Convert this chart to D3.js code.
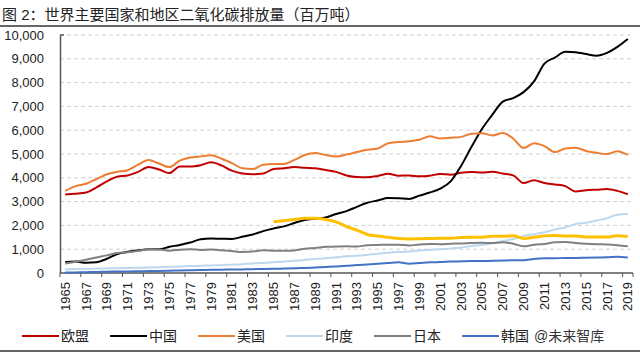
<!DOCTYPE html>
<html><head><meta charset="utf-8">
<script src="https://cdn.jsdelivr.net/npm/d3@7/dist/d3.min.js"></script>
<style>
html,body{margin:0;padding:0;background:#fff;}
svg{display:block;}
text{font-family:"Liberation Sans",Arial,"Noto Sans CJK SC",sans-serif;}
</style></head>
<body>
<svg id="chart" width="640" height="355"></svg>
<script>
const years = d3.range(1965, 2020);
const yTicks = [0,1000,2000,3000,4000,5000,6000,7000,8000,9000,10000];
const title = "图 2：世界主要国家和地区二氧化碳排放量（百万吨）";

const eu = [3300,3330,3380,3600,3850,4050,4100,4250,4450,4350,4200,4480,4470,4530,4650,4520,4300,4180,4150,4180,4370,4400,4450,4420,4400,4330,4250,4100,4030,4020,4080,4170,4090,4100,4060,4090,4160,4130,4210,4240,4220,4250,4180,4100,3780,3900,3780,3720,3650,3420,3480,3500,3530,3450,3310];
const china = [460,480,430,450,600,800,890,950,1000,1000,1100,1180,1280,1420,1450,1440,1430,1520,1620,1760,1870,1960,2100,2230,2280,2330,2480,2600,2780,2950,3050,3150,3140,3110,3250,3380,3550,3850,4500,5300,6050,6650,7200,7350,7600,8050,8800,9050,9300,9280,9200,9130,9250,9500,9830];
const usa = [3450,3650,3750,3950,4150,4250,4320,4550,4750,4600,4450,4720,4850,4900,4950,4800,4620,4400,4370,4550,4580,4580,4750,4960,5040,4960,4900,4980,5080,5180,5230,5450,5500,5540,5600,5750,5650,5680,5720,5850,5870,5780,5880,5650,5250,5450,5330,5080,5230,5260,5130,5050,5000,5120,4960];
const india = [160,170,175,185,195,200,210,220,230,240,260,270,290,300,320,330,350,370,400,420,450,480,510,550,590,620,660,700,720,760,810,850,880,900,950,980,1000,1030,1070,1130,1180,1250,1340,1430,1560,1630,1710,1830,1910,2060,2110,2210,2300,2450,2480];
const japan = [400,470,560,650,740,840,870,930,1000,990,940,980,1000,970,990,960,920,880,900,960,940,930,950,1020,1050,1100,1110,1120,1110,1170,1180,1190,1190,1160,1200,1220,1210,1230,1240,1260,1270,1260,1290,1230,1120,1190,1220,1290,1300,1260,1230,1210,1200,1170,1120];
const korea = [20,25,35,45,55,60,65,70,80,85,95,105,115,125,135,140,145,150,160,170,175,185,195,215,230,250,275,300,335,360,390,420,450,390,420,450,460,480,490,500,500,510,520,540,540,590,620,620,630,630,640,650,660,680,650];
const russia = [null,null,null,null,null,null,null,null,null,null,null,null,null,null,null,null,null,null,null,null,2150,2200,2250,2300,2300,2250,2150,1950,1800,1620,1550,1500,1450,1430,1440,1450,1460,1460,1490,1500,1500,1540,1540,1560,1450,1500,1560,1580,1550,1550,1510,1510,1510,1560,1530];

const series = [
  {name:"欧盟", values:eu, color:"#C00000", w:2},
  {name:"中国", values:china, color:"#000000", w:2},
  {name:"美国", values:usa, color:"#ED7D31", w:2},
  {name:"印度", values:india, color:"#BDD7EE", w:2},
  {name:"日本", values:japan, color:"#808080", w:2},
  {name:"韩国", values:korea, color:"#4472C4", w:2},
  {name:"俄罗斯", values:russia, color:"#FFC000", w:3}
];

const svg = d3.select("#chart");
const L = 60, R = 633, T = 35, B = 273;

// title
svg.append("text").attr("x",2).attr("y",20).attr("font-size",15).attr("fill","#222")
  .attr("font-family","'Noto Sans CJK SC',sans-serif").text(title);
svg.append("line").attr("x1",0).attr("x2",640).attr("y1",26).attr("y2",26).attr("stroke","#333").attr("stroke-width",1.5);
svg.append("line").attr("x1",0).attr("x2",640).attr("y1",351).attr("y2",351).attr("stroke","#333").attr("stroke-width",1.5);

const x = d3.scaleBand().domain(years).range([L,R]).padding(0);
const y = d3.scaleLinear().domain([0,10000]).range([B,T]);
const cx = d => x(d) + x.bandwidth()/2;

// gridlines
svg.append("g").selectAll("line").data(yTicks.filter(v=>v>0)).join("line")
  .attr("x1",L).attr("x2",R).attr("y1",d=>y(d)).attr("y2",d=>y(d))
  .attr("stroke","#d0d0d0").attr("stroke-width",1).attr("stroke-dasharray","4,3");

// y axis
const yAxis = svg.append("g").attr("transform",`translate(${L},0)`)
  .call(d3.axisLeft(y).tickValues(yTicks).tickFormat(d3.format(",")).tickSize(0).tickPadding(16));
yAxis.select(".domain").attr("stroke","#555").attr("stroke-width",1.5);
yAxis.selectAll("text").attr("font-size",13).attr("fill","#222")
  .attr("font-family","'Liberation Sans',Arial,sans-serif");
svg.append("line").attr("x1",L).attr("x2",L+4).attr("y1",y(10000)).attr("y2",y(10000)).attr("stroke","#555").attr("stroke-width",1.5);

// x axis
const xAxis = svg.append("g").attr("transform",`translate(0,${B})`)
  .call(d3.axisBottom(x).tickValues(years.filter(v=>(v-1965)%2===0)).tickSize(0).tickPadding(0));
xAxis.select(".domain").remove();
xAxis.selectAll(".tick text")
  .attr("font-size",13).attr("fill","#222")
  .attr("font-family","'Liberation Sans',Arial,sans-serif")
  .attr("transform","rotate(-90)").attr("text-anchor","end")
  .attr("x",-9).attr("y",0).attr("dy","0.35em");
svg.append("line").attr("x1",L).attr("x2",R).attr("y1",B).attr("y2",B).attr("stroke","#555").attr("stroke-width",1.5);
svg.append("g").selectAll("line").data(years.filter(v=>(v-1965)%2===0)).join("line")
  .attr("x1",d=>x(d)).attr("x2",d=>x(d)).attr("y1",B).attr("y2",B+4)
  .attr("stroke","#555").attr("stroke-width",1);
svg.append("line").attr("x1",R).attr("x2",R).attr("y1",B).attr("y2",B+4).attr("stroke","#555");

// lines
const line = d3.line().defined(d=>d.v!=null).x(d=>cx(d.yr)).y(d=>y(d.v)).curve(d3.curveMonotoneX);
svg.append("g").selectAll("path").data(series).join("path")
  .attr("d",s=>line(years.map((yr,i)=>({yr, v:s.values[i]}))))
  .attr("fill","none").attr("stroke",s=>s.color).attr("stroke-width",s=>s.w)
  .attr("stroke-linejoin","round");

// legend
const legendItems = series.slice(0,6);
const lg = svg.append("g").selectAll("g").data(legendItems).join("g")
  .attr("transform",(d,i)=>`translate(${22+i*88},336)`);
lg.append("line").attr("x1",0).attr("x2",37).attr("y1",0).attr("y2",0)
  .attr("stroke",d=>d.color).attr("stroke-width",2);
lg.append("text").attr("x",39).attr("y",0).attr("dy","0.36em").attr("font-size",14).attr("fill","#222")
  .attr("font-family","'Noto Sans CJK SC',sans-serif").text(d=>d.name);

// watermark text
svg.append("text").attr("x",534).attr("y",336).attr("dy","0.36em").attr("font-size",14).attr("fill","#333")
  .attr("font-family","'Noto Sans CJK SC',sans-serif").text("@未来智库");
</script>
</body></html>
